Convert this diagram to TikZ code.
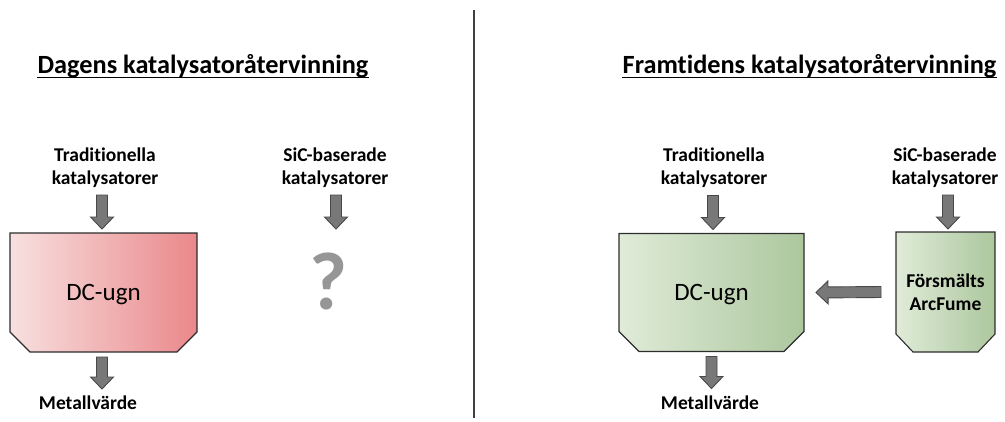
\documentclass[tikz,border=0pt]{standalone}
\usepackage{fontspec}
\setmainfont{Carlito}[Ligatures=NoCommon]
\usetikzlibrary{calc}
\pgfdeclarelayer{bg}
\pgfsetlayers{bg,main}
\definecolor{arrowfill}{RGB}{120,120,120}
\definecolor{arrowdraw}{RGB}{72,72,72}
\definecolor{pinkL}{RGB}{248,224,224}
\definecolor{pinkR}{RGB}{234,136,138}
\definecolor{greenL}{RGB}{224,235,216}
\definecolor{greenR}{RGB}{172,199,158}
\definecolor{boxline}{RGB}{45,45,45}
\definecolor{qgray}{RGB}{150,150,150}
\definecolor{qline}{RGB}{110,110,110}
\tikzset{
  title/.style={anchor=base, inner sep=0pt, font=\fontsize{26.3}{30}\selectfont\bfseries},
  lbl/.style={align=center, inner sep=0pt, font=\fontsize{19.5}{23}\selectfont\bfseries},
  boxnode/.style={inner sep=0pt, outer sep=0pt},
  boxtext/.style={font=\fontsize{25}{28}\selectfont},
  boxshape/.style={draw=boxline, line width=1.1pt, line join=miter},
  pinkshade/.style={left color=pinkL, right color=pinkR},
  greenshade/.style={left color=greenL, right color=greenR},
  barrow/.style={fill=arrowfill, draw=arrowdraw, line width=0.9pt, line join=miter,
    to path={
      ($(\tikztostart)!5.5pt!90:(\tikztotarget)$)
      -- ($(\tikztotarget)!13.21pt!-24.62:(\tikztostart)$)
      -- ($(\tikztotarget)!16.62pt!-43.78:(\tikztostart)$)
      -- (\tikztotarget)
      -- ($(\tikztotarget)!16.62pt!43.78:(\tikztostart)$)
      -- ($(\tikztotarget)!13.21pt!24.62:(\tikztostart)$)
      -- ($(\tikztostart)!5.5pt!-90:(\tikztotarget)$)
      -- cycle}},
  divider/.style={draw=black!75, line width=1.5pt}
}
\begin{document}
\begin{tikzpicture}[x=1pt,y=-1pt]
\useasboundingbox (0,0) rectangle (1005,421);

% divider
\coordinate (dtop) at (474,10);
\coordinate (dbot) at (474,418);
\draw[divider] (dtop) -- (dbot);

% titles
\node[title] (t1) at (203,73) {Dagens katalysatoråtervinning};
\draw[line width=1.6pt] ([yshift=-4.5pt]t1.base west) -- ([yshift=-4.5pt]t1.base east);
\node[title] (t2) at (809.5,73) {Framtidens katalysatoråtervinning};
\draw[line width=1.6pt] ([yshift=-4.5pt]t2.base west) -- ([yshift=-4.5pt]t2.base east);

% ---------- left panel ----------
\node[lbl] (trad1) at (105,168) {Traditionella\\katalysatorer};
\node[lbl] (sic1) at (335,168) {SiC-baserade\\katalysatorer};
\node[boxnode, minimum width=187pt, minimum height=119pt] (ovn1) at (103.5,292.5) {};
\node[boxtext] (ovn1t) at ([yshift=-2pt]ovn1.center) {DC-ugn};
\begin{pgfonlayer}{bg}
\draw[boxshape, pinkshade] (ovn1.north west) -- (ovn1.north east)
  -- ([yshift=20pt]ovn1.south east) -- ([xshift=-20pt]ovn1.south east)
  -- ([xshift=20pt]ovn1.south west) -- ([yshift=20pt]ovn1.south west) -- cycle;
\end{pgfonlayer}
\node[anchor=base, inner sep=0pt, font=\fontsize{19.5}{23}\selectfont\bfseries] (met1) at (88,409) {Metallvärde};
\node[inner sep=0pt, text=qgray, font=\fontsize{82}{82}\selectfont\bfseries] (q1) at (328,281) {?};

\coordinate (a1s) at ([xshift=-1.5pt,yshift=38pt]ovn1.north);
\coordinate (a1e) at ([xshift=-1.5pt,yshift=4pt]ovn1.north);
\path[barrow] (a1s) to (a1e);
\coordinate (a2s) at ([xshift=-1.5pt,yshift=-5pt]ovn1.south);
\coordinate (a2e) at ([xshift=-1.5pt,yshift=-37pt]ovn1.south);
\path[barrow] (a2s) to (a2e);
\coordinate (a3s) at (336,195);
\coordinate (a3e) at (336,229);
\path[barrow] (a3s) to (a3e);

% ---------- right panel ----------
\node[lbl] (trad2) at (714,168) {Traditionella\\katalysatorer};
\node[lbl] (sic2) at (945,168) {SiC-baserade\\katalysatorer};
\node[boxnode, minimum width=185pt, minimum height=118pt] (ovn2) at (711.5,292.5) {};
\node[boxtext] (ovn2t) at ([yshift=-2pt]ovn2.center) {DC-ugn};
\node[boxnode, minimum width=99pt, minimum height=120pt] (arc) at (945.5,292) {};
\node[lbl] (arct) at (arc.center) {Försmälts\\ArcFume};
\begin{pgfonlayer}{bg}
\draw[boxshape, greenshade] (ovn2.north west) -- (ovn2.north east)
  -- ([yshift=20pt]ovn2.south east) -- ([xshift=-20pt]ovn2.south east)
  -- ([xshift=20pt]ovn2.south west) -- ([yshift=20pt]ovn2.south west) -- cycle;
\draw[boxshape, greenshade] (arc.north west) -- (arc.north east)
  -- ([yshift=18pt]arc.south east) -- ([xshift=-17pt]arc.south east)
  -- ([xshift=17pt]arc.south west) -- ([yshift=18pt]arc.south west) -- cycle;
\end{pgfonlayer}
\node[anchor=base, inner sep=0pt, font=\fontsize{19.5}{23}\selectfont\bfseries] (met2) at (710,409) {Metallvärde};

\coordinate (b1s) at ([xshift=1.5pt,yshift=38pt]ovn2.north);
\coordinate (b1e) at ([xshift=1.5pt,yshift=4pt]ovn2.north);
\path[barrow] (b1s) to (b1e);
\coordinate (b2s) at ([xshift=0pt,yshift=-5pt]ovn2.south);
\coordinate (b2e) at ([xshift=0pt,yshift=-37pt]ovn2.south);
\path[barrow] (b2s) to (b2e);
\coordinate (b3s) at ([xshift=2.5pt,yshift=37pt]arc.north);
\coordinate (b3e) at ([xshift=2.5pt,yshift=3pt]arc.north);
\path[barrow] (b3s) to (b3e);
\coordinate (b4s) at ([xshift=-15pt]arc.west);
\coordinate (b4e) at ([xshift=12pt]ovn2.east);
\path[barrow] (b4s) to (b4e);
\end{tikzpicture}
\end{document}
